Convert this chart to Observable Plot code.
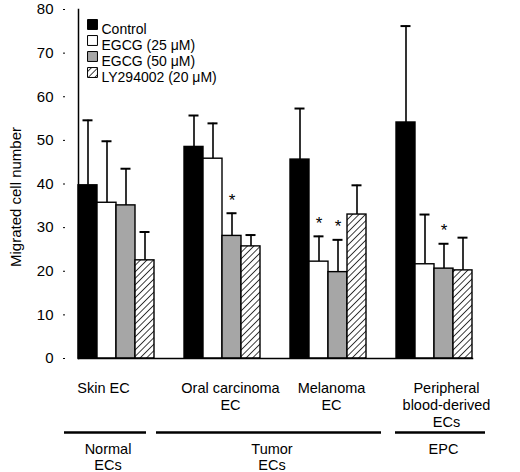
<!DOCTYPE html>
<html>
<head>
<meta charset="utf-8">
<script src="https://cdn.jsdelivr.net/npm/d3@7"></script>
<script src="https://cdn.jsdelivr.net/npm/@observablehq/plot@0.6"></script>
<style>
  body { margin: 0; background: #fff; }
</style>
</head>
<body>
<div id="chart"></div>
<script>
// ---- data ----
const categories = ["Skin EC", "Oral carcinoma EC", "Melanoma EC", "Peripheral blood-derived ECs"];
const categoryLabels = ["Skin EC", "Oral carcinoma\nEC", "Melanoma\nEC", "Peripheral\nblood-derived\nECs"];
const cellTypes = ["Normal\nECs", "Tumor\nECs", "EPC"];
const cellTypeOfCategory = ["Normal\nECs", "Tumor\nECs", "Tumor\nECs", "EPC"];
const series = ["Control", "EGCG (25 μM)", "EGCG (50 μM)", "LY294002 (20 μM)"];

const controlValues = [39.7, 48.5, 45.6, 54.1];
const egcg25Values  = [35.7, 45.8, 22.2, 21.6];
const egcg50Values  = [35.1, 28.1, 19.8, 20.6];
const lyValues      = [22.5, 25.7, 33.0, 20.2];

const controlSD = [14.9, 7.2, 11.7, 22.1];
const egcg25SD  = [14.1, 8.1, 5.8, 11.4];
const egcg50SD  = [8.4, 5.2, 7.4, 5.7];
const lySD      = [6.5, 2.6, 6.7, 7.5];

const controlSig = [false, false, false, false];
const egcg25Sig  = [false, false, true, false];
const egcg50Sig  = [false, true, true, true];
const lySig      = [false, false, false, false];

const yTicks = [0, 10, 20, 30, 40, 50, 60, 70, 80];
const yLabel = "Migrated cell number";

// ---- styles ----
const fills = ["#000000", "#ffffff", "#a6a6a6", "url(#hatch)"];
const font = "'Liberation Sans', Arial, Helvetica, sans-serif";
const categoryLabelDx = [-13, 8, 3, 12];
const bracketInsets = [[-14, 8], [-28, -15], [-15, -15], [-1, -13]];
const cellTypeDx = [-8.5, 49.5, 9];

// ---- table ----
const allValues = [controlValues, egcg25Values, egcg50Values, lyValues];
const allSD = [controlSD, egcg25SD, egcg50SD, lySD];
const allSig = [controlSig, egcg25Sig, egcg50Sig, lySig];
const rows = [];
categories.forEach((c, i) => series.forEach((s, j) => rows.push({
  category: c, series: s, value: allValues[j][i], top: allValues[j][i] + allSD[j][i], sig: allSig[j][i]
})));

const first = () => categories[0];

const marks = [
  // error bars (upper only)
  Plot.ruleX(rows, {fx: "category", x: "series", y1: "value", y2: "top", stroke: "black", strokeWidth: 1.6}),
  Plot.tickY(rows, {fx: "category", x: "series", y: "top", inset: 4.5, stroke: "black", strokeWidth: 2}),
  // bars
  Plot.barY(rows, {fx: "category", x: "series", y1: 0, y2: "value", fill: "series", stroke: "black", strokeWidth: 1.4}),
  // significance stars
  Plot.text(rows.filter(d => d.sig), {fx: "category", x: "series", y: "top", text: () => "*", dy: -13, fontSize: 17}),
  // axes
  Plot.frame({anchor: "left", facet: "super", stroke: "black", strokeWidth: 1.5}),
  Plot.frame({anchor: "bottom", facet: "super", stroke: "black", strokeWidth: 1.5}),
  Plot.ruleY(yTicks, {fx: first, y: d => d, insetLeft: -15, insetRight: 89, stroke: "black", strokeWidth: 1}),
  Plot.axisY(yTicks, {tickSize: 0, tickPadding: 10, dx: -15, fontSize: 15, label: null}),
  Plot.text([yLabel], {fx: first, frameAnchor: "left", textAnchor: "middle", rotate: -90, dx: -62, dy: 13, fontSize: 15, text: d => d}),
  // legend
  ...series.map((s, i) => Plot.dot([s], {fx: first, frameAnchor: "top-left", dx: 14, dy: 15 + i * 16, symbol: "square", r: 5.6, fill: d => d, stroke: "black", strokeWidth: 1})),
  ...series.map((s, i) => Plot.text([s], {fx: first, frameAnchor: "top-left", dx: 23, dy: 15 + i * 16, text: d => d, textAnchor: "start", fontSize: 14})),
  // category labels
  ...categories.map((c, i) => Plot.text([c], {fx: d => d, frameAnchor: "bottom", textAnchor: "middle", lineAnchor: "top", dy: 23, dx: categoryLabelDx[i], text: () => categoryLabels[i], fontSize: 14.5, lineHeight: 1.15})),
  // cell type brackets
  ...categories.map((c, i) => Plot.ruleY([0], {fx: () => c, dy: 74, insetLeft: bracketInsets[i][0], insetRight: bracketInsets[i][1], stroke: "black", strokeWidth: 2.5})),
  ...cellTypes.map((t, k) => Plot.text([t], {fx: () => categories[cellTypeOfCategory.indexOf(t)], frameAnchor: "bottom", textAnchor: "middle", lineAnchor: "top", dy: 84, dx: cellTypeDx[k], text: d => d, fontSize: 14.5, lineHeight: 1.1}))
];

const chart = Plot.plot({
  width: 520,
  height: 472,
  marginLeft: 62,
  marginRight: 5,
  marginTop: 9,
  marginBottom: 114,
  style: {fontFamily: font, fontSize: "14px", color: "black", background: "white", overflow: "visible"},
  fx: {domain: categories, paddingInner: 0.28, paddingOuter: 0.257, align: 0.27, axis: null, label: null},
  x: {domain: series, padding: 0, axis: null},
  y: {domain: [0, 80], axis: null},
  color: {domain: series, range: fills},
  marks
});

const svg = chart.tagName.toLowerCase() === "svg" ? chart : chart.querySelector("svg");
d3.select(svg).insert("defs", ":first-child").html(
  `<pattern id="hatch" patternUnits="userSpaceOnUse" width="4.6" height="4.6" patternTransform="rotate(45)">
     <rect width="4.6" height="4.6" fill="white"></rect>
     <line x1="0" y1="0" x2="0" y2="4.6" stroke="black" stroke-width="1.5"></line>
   </pattern>`
);
document.getElementById("chart").appendChild(chart);
</script>
</body>
</html>
